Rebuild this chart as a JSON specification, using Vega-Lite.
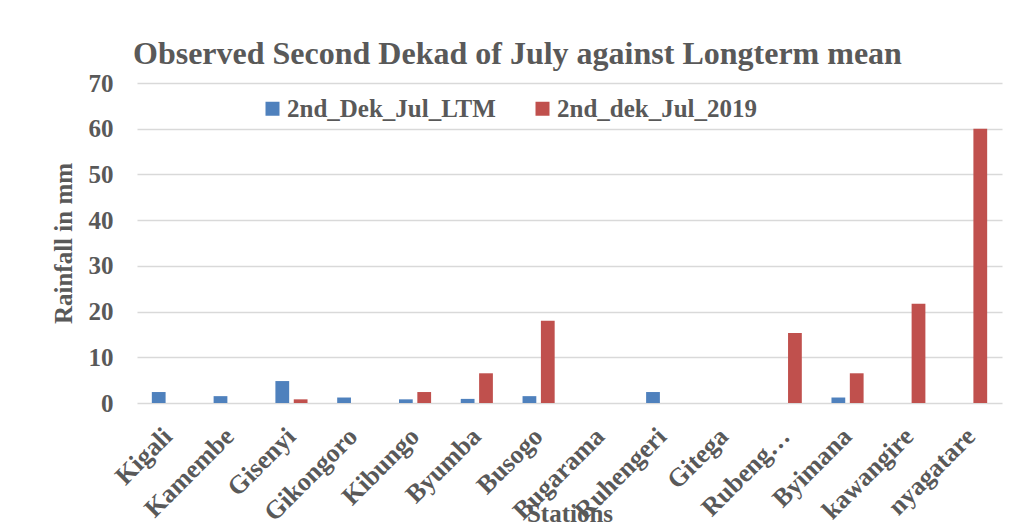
{
  "$schema": "https://vega.github.io/schema/vega-lite/v6.json",
  "autosize": "none",
  "padding": {"left": 137, "top": 83, "right": 19, "bottom": 120},
  "width": 865,
  "height": 320,
  "background": "white",
  "title": {
    "text": "Observed Second Dekad of July against Longterm  mean",
    "anchor": "start",
    "frame": "group",
    "dx": -4,
    "dy": 45,
    "offset": 20,
    "baseline": "alphabetic",
    "font": "Liberation Serif",
    "fontSize": 32,
    "fontWeight": "bold",
    "color": "#595959"
  },
  "data": {
    "values": [
      {"station": "Kigali", "series": "2nd_Dek_Jul_LTM", "value": 2.4},
      {"station": "Kigali", "series": "2nd_dek_Jul_2019", "value": 0},
      {"station": "Kamembe", "series": "2nd_Dek_Jul_LTM", "value": 1.5},
      {"station": "Kamembe", "series": "2nd_dek_Jul_2019", "value": 0},
      {"station": "Gisenyi", "series": "2nd_Dek_Jul_LTM", "value": 4.8},
      {"station": "Gisenyi", "series": "2nd_dek_Jul_2019", "value": 0.8},
      {"station": "Gikongoro", "series": "2nd_Dek_Jul_LTM", "value": 1.2},
      {"station": "Gikongoro", "series": "2nd_dek_Jul_2019", "value": 0},
      {"station": "Kibungo", "series": "2nd_Dek_Jul_LTM", "value": 0.8},
      {"station": "Kibungo", "series": "2nd_dek_Jul_2019", "value": 2.4},
      {"station": "Byumba", "series": "2nd_Dek_Jul_LTM", "value": 0.9},
      {"station": "Byumba", "series": "2nd_dek_Jul_2019", "value": 6.5},
      {"station": "Busogo", "series": "2nd_Dek_Jul_LTM", "value": 1.5},
      {"station": "Busogo", "series": "2nd_dek_Jul_2019", "value": 18.0},
      {"station": "Bugarama", "series": "2nd_Dek_Jul_LTM", "value": 0},
      {"station": "Bugarama", "series": "2nd_dek_Jul_2019", "value": 0},
      {"station": "Ruhengeri", "series": "2nd_Dek_Jul_LTM", "value": 2.4},
      {"station": "Ruhengeri", "series": "2nd_dek_Jul_2019", "value": 0},
      {"station": "Gitega", "series": "2nd_Dek_Jul_LTM", "value": 0},
      {"station": "Gitega", "series": "2nd_dek_Jul_2019", "value": 0},
      {"station": "Rubeng…", "series": "2nd_Dek_Jul_LTM", "value": 0},
      {"station": "Rubeng…", "series": "2nd_dek_Jul_2019", "value": 15.3},
      {"station": "Byimana", "series": "2nd_Dek_Jul_LTM", "value": 1.2},
      {"station": "Byimana", "series": "2nd_dek_Jul_2019", "value": 6.5},
      {"station": "kawangire", "series": "2nd_Dek_Jul_LTM", "value": 0},
      {"station": "kawangire", "series": "2nd_dek_Jul_2019", "value": 21.7},
      {"station": "nyagatare", "series": "2nd_Dek_Jul_LTM", "value": 0},
      {"station": "nyagatare", "series": "2nd_dek_Jul_2019", "value": 60.0}
    ]
  },
  "mark": {"type": "bar"},
  "encoding": {
    "x": {
      "field": "station",
      "type": "nominal",
      "sort": null,
      "scale": {"paddingInner": 0.48, "paddingOuter": 0.24},
      "axis": {
        "title": "Stations",
        "labelAngle": -45,
        "labelAlign": "right",
        "labelBaseline": "middle",
        "labelFont": "Liberation Serif",
        "labelFontSize": 26,
        "labelFontWeight": "bold",
        "labelColor": "#595959",
        "labelPadding": 29,
        "labelLimit": 300,
        "ticks": false,
        "domain": false,
        "titleFont": "Liberation Serif",
        "titleFontSize": 25,
        "titleFontWeight": "bold",
        "titleColor": "#595959",
        "titleY": 118,
        "titleBaseline": "alphabetic"
      }
    },
    "xOffset": {
      "field": "series",
      "type": "nominal",
      "sort": ["2nd_Dek_Jul_LTM", "2nd_dek_Jul_2019"],
      "scale": {"paddingInner": 0.25, "paddingOuter": 0}
    },
    "y": {
      "field": "value",
      "type": "quantitative",
      "scale": {"domain": [0, 70], "nice": false},
      "axis": {
        "title": "Rainfall in mm",
        "values": [0, 10, 20, 30, 40, 50, 60, 70],
        "grid": true,
        "gridColor": "#D9D9D9",
        "gridWidth": 1.5,
        "domain": false,
        "ticks": false,
        "labelFont": "Liberation Serif",
        "labelFontSize": 25,
        "labelFontWeight": "bold",
        "labelColor": "#595959",
        "labelPadding": 24,
        "titleFont": "Liberation Serif",
        "titleFontSize": 25,
        "titleFontWeight": "bold",
        "titleColor": "#595959",
        "titlePadding": 12
      }
    },
    "color": {
      "field": "series",
      "type": "nominal",
      "sort": ["2nd_Dek_Jul_LTM", "2nd_dek_Jul_2019"],
      "scale": {"domain": ["2nd_Dek_Jul_LTM", "2nd_dek_Jul_2019"], "range": ["#4F81BD", "#C0504D"]},
      "legend": {
        "title": null,
        "orient": "none",
        "legendX": 123,
        "legendY": 13,
        "direction": "horizontal",
        "symbolType": "square",
        "symbolSize": 196,
        "symbolStrokeWidth": 0,
        "labelFont": "Liberation Serif",
        "labelFontSize": 25,
        "labelFontWeight": "bold",
        "labelColor": "#595959",
        "labelOffset": 2,
        "labelLimit": 400,
        "columnPadding": 34
      }
    }
  },
  "config": {
    "view": {"stroke": null}
  }
}
